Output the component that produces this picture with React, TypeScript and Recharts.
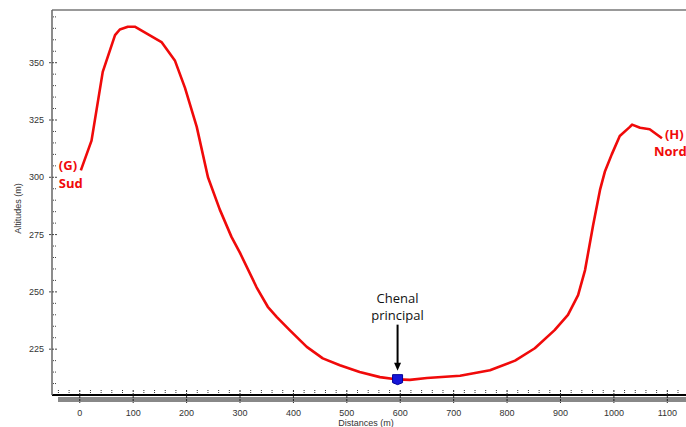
import { LineChart, Line, XAxis, YAxis, ReferenceLine, ReferenceDot } from 'recharts'

// profile: distance (m) / altitude (m)
const distances = [
  2, 22, 43, 66, 75, 90, 103, 153, 178, 197, 219, 240, 262, 284, 300,
  331, 352, 369, 393, 425, 455, 487, 524, 562, 595, 618, 650, 712, 768, 815,
  852, 889, 914, 933, 946, 961, 974, 983, 996, 1011, 1030, 1034, 1049, 1067, 1090,
]
const altitudes = [
  303, 316, 346, 362, 364.5, 365.7, 365.7, 359, 351, 339, 322, 300, 286, 274, 267,
  252, 243.5, 239, 233.3, 226, 221, 218, 215, 212.8, 211.8, 211.6, 212.4, 213.4, 215.8, 220,
  225.4, 233.3, 240, 248.6, 259.5, 279, 294.5, 302.4, 310, 318, 322, 323, 321.6, 321, 317,
]

const X_DOMAIN: [number, number] = [-52, 1135]
const Y_DOMAIN: [number, number] = [205, 373]
const X_TICKS = Array.from({ length: 59 }, (_, i) => -40 + i * 20)   // -40 .. 1120
const Y_TICKS = Array.from({ length: 33 }, (_, i) => 210 + i * 5)    // 210 .. 370

const CHENAL = { d: 595, alt: 211.7 }
const START = { d: 2, alt: 303 }
const END = { d: 1090, alt: 317 }

const data = distances.map((d, i) => ({ d, alt: altitudes[i] }))

const FONT = '"Liberation Sans", Arial, sans-serif'
const BOLD = '"Open Sans", "Noto Sans", sans-serif'
const RED = '#f00a0a'

function XTick({ x, y, payload }: any) {
  const v = payload.value
  const major = v % 100 === 0
  if (!major) {
    return <line x1={x} x2={x} y1={y - 5} y2={y - 1} stroke="#333" strokeDasharray="1 1" />
  }
  return (
    <g>
      <line x1={x} x2={x} y1={y - 5} y2={y + 8} stroke="#222" strokeWidth={1} strokeDasharray="2 1" />
      <text x={x} y={y + 21} textAnchor="middle" fontSize={9} fontFamily={FONT} fill="#333">{v}</text>
    </g>
  )
}

function YTick({ x, y, payload }: any) {
  const v = payload.value
  const major = v % 25 === 0
  if (!major) {
    return <line x1={x + 1} x2={x + 4} y1={y} y2={y} stroke="#444" strokeDasharray="1 1" />
  }
  return (
    <g>
      <line x1={x - 3} x2={x + 5} y1={y} y2={y} stroke="#444" strokeDasharray="2 1" />
      <text x={x - 8} y={y + 3} textAnchor="end" fontSize={9} fontFamily={FONT} fill="#333">{v}</text>
    </g>
  )
}

function XTitle({ viewBox }: any) {
  const { x, y, width } = viewBox
  return (
    <g>
      <rect x={x + 6} y={y + 2} width={width - 6} height={5} fill="#888" />
      <text x={x + width / 2 - 3} y={y + 31} textAnchor="middle" fontSize={9} fontFamily={FONT} fill="#333">
        Distances (m)
      </text>
    </g>
  )
}

function YTitle({ viewBox }: any) {
  const { y, height } = viewBox
  const cy = y + height / 2 + 6
  return (
    <text x={21} y={cy} transform={`rotate(-90 21 ${cy})`} textAnchor="middle"
      fontSize={9} fontFamily={FONT} fill="#333">
      Altitudes (m)
    </text>
  )
}

const ShapeG = ({ cx, cy }: any) => (
  <g fontFamily={BOLD} fontWeight={700} fontSize={13} fill={RED}>
    <text x={cx - 22} y={cy}>(G)</text>
    <text x={cx - 22} y={cy + 18}>Sud</text>
  </g>
)

const ShapeH = ({ cx, cy }: any) => (
  <g fontFamily={BOLD} fontWeight={700} fontSize={13} fill={RED}>
    <text x={cx + 3} y={cy + 1}>(H)</text>
    <text x={cx - 8} y={cy + 18}>Nord</text>
  </g>
)

const ShapeChenal = ({ cx, cy }: any) => (
  <g>
    <text x={cx} y={cy - 77} textAnchor="middle" fontSize={13} fontFamily={BOLD} fill="#111">Chenal</text>
    <text x={cx} y={cy - 60} textAnchor="middle" fontSize={13} fontFamily={BOLD} fill="#111">principal</text>
    <line x1={cx} x2={cx} y1={cy - 55} y2={cy - 15} stroke="#000" strokeWidth={2} />
    <polygon points={`${cx - 3.5},${cy - 17} ${cx + 3.5},${cy - 17} ${cx},${cy - 9}`} fill="#000" />
    <path
      d={`M${cx - 5},${cy - 5} H${cx + 5} V${cy + 3} L${cx},${cy + 5} L${cx - 5},${cy + 3} Z`}
      fill="#1515d8" stroke="#00009a" strokeWidth={1}
    />
  </g>
)

export default function App() {
  return (
    <div style={{ position: 'absolute', left: 0, top: 0, width: 686, height: 427, background: 'white' }}>
      <LineChart width={686} height={427} data={data} margin={{ top: 10, right: 0, bottom: 0, left: 0 }}>
        <XAxis
          dataKey="d" type="number" domain={X_DOMAIN} ticks={X_TICKS} interval={0}
          height={32} tickSize={0} tickMargin={0} tickLine={false}
          axisLine={{ stroke: '#000', strokeWidth: 2 }}
          tick={(p: any) => <XTick {...p} />}
          label={{ content: (p: any) => <XTitle {...p} /> }}
        />
        <YAxis
          type="number" domain={Y_DOMAIN} ticks={Y_TICKS} interval={0}
          width={52} tickSize={0} tickMargin={0} tickLine={false}
          axisLine={{ stroke: '#666', strokeWidth: 1.5 }}
          tick={(p: any) => <YTick {...p} />}
          label={{ content: (p: any) => <YTitle {...p} /> }}
        />
        <ReferenceLine y={Y_DOMAIN[1]} stroke="#999" strokeWidth={2} />
        <Line
          type="linear" dataKey="alt" stroke={RED} strokeWidth={2.6} strokeLinejoin="round"
          dot={false} activeDot={false} isAnimationActive={false}
        />
        <ReferenceDot x={START.d} y={START.alt} r={0} shape={(p: any) => <ShapeG {...p} />} />
        <ReferenceDot x={END.d} y={END.alt} r={0} shape={(p: any) => <ShapeH {...p} />} />
        <ReferenceDot x={CHENAL.d} y={CHENAL.alt} r={5} shape={(p: any) => <ShapeChenal {...p} />} />
      </LineChart>
    </div>
  )
}
